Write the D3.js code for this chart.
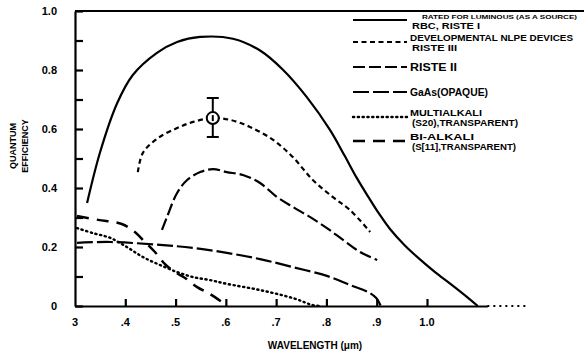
<!DOCTYPE html>
<html><head><meta charset="utf-8">
<script src="https://cdn.jsdelivr.net/npm/d3@7"></script>
<style>
body{margin:0;background:#fff}
svg{display:block}
text{font-family:"Liberation Sans",Arial,sans-serif;font-weight:bold;fill:#000}
</style>
</head><body>
<svg id="c" width="584" height="356"></svg>
<script>
// ---- data (wavelength in µm, quantum efficiency) ----
const xTicks = [0.3,0.4,0.5,0.6,0.7,0.8,0.9,1.0];
const xTickLabels = ["3",".4",".5",".6",".7",".8",".9","1.0"];
const yTicks = [0,0.2,0.4,0.6,0.8,1.0];
const yTickLabels = ["0","0.2","0.4","0.6","0.8","1.0"];
const yMinorTicks = [0,0.1,0.2,0.3,0.4,0.5,0.6,0.7,0.8,0.9,1.0];

const seriesNames = ["RISTE I","RISTE III","RISTE II","GaAs","MULTIALKALI","BI-ALKALI"];

const ristI = [[.324,.349],[.350,.522],[.384,.688],[.415,.783],[.463,.858],[.503,.895],[.549,.912],[.614,.906],[.668,.866],[.714,.800],[.761,.708],[.807,.597],[.836,.51],[.860,.435],[.884,.368],[.905,.312],[.926,.262],[.955,.207],[.986,.158],[1.016,.115],[1.046,.076],[1.075,.037],[1.101,0]];
const ristIII = [[.425,.454],[.435,.519],[.465,.569],[.503,.603],[.535,.624],[.574,.637],[.608,.631],[.648,.607],[.694,.563],[.733,.505],[.773,.427],[.813,.369],[.847,.325],[.887,.251]];
const ristIII_point = [.574,.637];
const ristIII_err = [.573,.705];
const ristII = [[.473,.258],[.483,.302],[.503,.383],[.523,.427],[.549,.454],[.574,.464],[.602,.454],[.634,.444],[.668,.417],[.702,.369],[.733,.336],[.767,.302],[.801,.264],[.833,.224],[.867,.183],[.901,.156]];
const gaas = [[.304,.214],[.370,.217],[.469,.207],[.535,.197],[.602,.180],[.668,.159],[.733,.132],[.801,.102],[.847,.071],[.883,.047],[.899,.027],[.908,0]];
const multialkali = [[.304,.264],[.336,.247],[.370,.231],[.403,.200],[.435,.166],[.469,.139],[.503,.115],[.535,.098],[.568,.088],[.602,.075],[.668,.054],[.733,.027],[.773,.003],[.787,0]];
const bialkali = [[.304,.305],[.346,.292],[.393,.278],[.419,.251],[.439,.217],[.459,.183],[.479,.142],[.499,.115],[.519,.095],[.543,.064],[.568,.041],[.592,.014]];

const legendText = [
  ["RATED FOR LUMINOUS (AS A SOURCE)", "RBC, RISTE I"],
  ["DEVELOPMENTAL NLPE DEVICES", "RISTE III"],
  ["RISTE II"],
  ["GaAs(OPAQUE)"],
  ["MULTIALKALI", "(S20),TRANSPARENT)"],
  ["BI-ALKALI", "(S[11],TRANSPARENT)"]
];

// ---- layout ----
const svg = d3.select("#c");
const x = d3.scaleLinear().domain([0.3, 1.0]).range([75, 427]);
const y = d3.scaleLinear().domain([0, 1.0]).range([306, 11]);

const styles = [
  {dash:null, w:2.2},
  {dash:"5,3.5", w:2.2},
  {dash:"12,4", w:2.2},
  {dash:"16,4", w:2.2},
  {dash:"1.2,3.6", w:2.4, cap:"round"},
  {dash:"12,8", w:2.5}
];
const seriesData = [ristI, ristIII, ristII, gaas, multialkali, bialkali];

// frame: top border
svg.append("line").attr("x1", x(0.3)).attr("x2", 584).attr("y1", y(1)).attr("y2", y(1))
  .attr("stroke","#000").attr("stroke-width",2.2);

// y axis ticks (inward)
const yAxis = d3.axisLeft(y).tickValues(yMinorTicks).tickSize(-8).tickSizeOuter(0).tickFormat("");
const gy = svg.append("g").attr("transform",`translate(${x(0.3)},0)`).call(yAxis);
gy.selectAll("path,line").attr("stroke","#000").attr("stroke-width",2.2);

// x axis ticks (inward)
const xAxisScale = x.copy().domain([0.3, 1.12]).range([x(0.3), x(1.12)]);
const xAxis = d3.axisBottom(xAxisScale).tickValues(xTicks.slice(1)).tickSize(-7).tickSizeOuter(0).tickFormat("");
const gx = svg.append("g").attr("transform",`translate(0,${y(0)})`).call(xAxis);
gx.selectAll("path,line").attr("stroke","#000").attr("stroke-width",2.2);
// dotted extension of baseline
svg.append("line").attr("x1", x(1.12)).attr("x2", x(1.2)).attr("y1", y(0)).attr("y2", y(0))
  .attr("stroke","#000").attr("stroke-width",2).attr("stroke-dasharray","2,4");

// tick labels
svg.append("g").selectAll("text").data(xTicks).join("text")
  .attr("x", d => x(d)).attr("y", 326).attr("text-anchor","middle")
  .style("font-size","11px").text((d,i) => xTickLabels[i]);
svg.append("g").selectAll("text").data(yTicks).join("text")
  .attr("x", 57).attr("y", d => y(d) + 4).attr("text-anchor","end")
  .style("font-size","11px").text((d,i) => yTickLabels[i]);

// axis titles
svg.append("text").attr("x", 315).attr("y", 349).attr("text-anchor","middle")
  .style("font-size","10px").text("WAVELENGTH (\u03bcm)");
const yt = svg.append("text").attr("transform","translate(0,146) rotate(-90)").attr("text-anchor","middle")
  .style("font-size","9px");
yt.append("tspan").attr("x",0).attr("y",16).text("QUANTUM");
yt.append("tspan").attr("x",0).attr("y",28).text("EFFICIENCY");

// curves
const line = d3.line().x(d => x(d[0])).y(d => y(d[1])).curve(d3.curveCatmullRom.alpha(0.5));
seriesData.forEach((data, i) => {
  const s = styles[i];
  svg.append("path").datum(data).attr("d", line).attr("fill","none")
    .attr("stroke","#000").attr("stroke-width", s.w)
    .attr("stroke-dasharray", s.dash).attr("stroke-linecap", s.cap || "butt");
});

// error bar + marker on RISTE III
const ex = x(ristIII_point[0]);
svg.append("line").attr("x1",ex).attr("x2",ex).attr("y1",y(ristIII_err[0])).attr("y2",y(ristIII_err[1]))
  .attr("stroke","#000").attr("stroke-width",2);
ristIII_err.forEach(v => svg.append("line").attr("x1",ex-6).attr("x2",ex+6).attr("y1",y(v)).attr("y2",y(v))
  .attr("stroke","#000").attr("stroke-width",2));
svg.append("circle").attr("cx",ex).attr("cy",y(ristIII_point[1])).attr("r",6)
  .attr("fill","#fff").attr("stroke","#000").attr("stroke-width",2);
svg.append("line").attr("x1",ex).attr("x2",ex).attr("y1",y(ristIII_point[1])-3).attr("y2",y(ristIII_point[1])+3)
  .attr("stroke","#000").attr("stroke-width",2);

// legend
const legY = [20, 42, 67, 92, 117, 141];
const textW = [[155,68],[163,45],[47],[78],[72,106],[64,104]];
legendText.forEach((rows, i) => {
  const s = styles[i];
  svg.append("line").attr("x1",353).attr("x2",407).attr("y1",legY[i]).attr("y2",legY[i])
    .attr("stroke","#000").attr("stroke-width", s.w)
    .attr("stroke-dasharray", s.dash).attr("stroke-linecap", s.cap || "butt");
  if (rows.length === 1) {
    svg.append("text").attr("x",410).attr("y",legY[i]+4).style("font-size","10px")
      .attr("textLength",textW[i][0]).attr("lengthAdjust","spacingAndGlyphs").text(rows[0]);
  } else {
    const small = (i === 0);
    svg.append("text").attr("x", small ? 422 : 410).attr("y", legY[i] - 1)
      .style("font-size", small ? "6px" : "8.5px")
      .attr("textLength",textW[i][0]).attr("lengthAdjust","spacingAndGlyphs").text(rows[0]);
    svg.append("text").attr("x", 412).attr("y", legY[i] + 9).style("font-size","8.5px")
      .attr("textLength",textW[i][1]).attr("lengthAdjust","spacingAndGlyphs").text(rows[1]);
  }
});
</script>
</body></html>
